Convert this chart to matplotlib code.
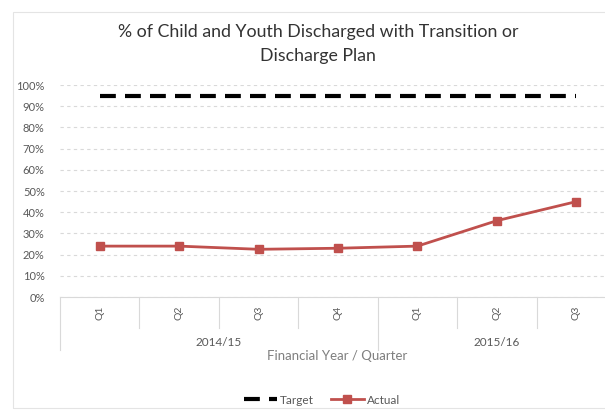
import matplotlib
matplotlib.use("Agg")
import matplotlib.pyplot as plt
from matplotlib.lines import Line2D
from matplotlib.patches import Rectangle

plt.rcParams['font.family'] = ['Lato', 'DejaVu Sans']

years = ["2014/15", "2015/16"]
quarters = ["Q1", "Q2", "Q3", "Q4", "Q1", "Q2", "Q3"]
year_spans = [4, 3]
target = [95, 95, 95, 95, 95, 95, 95]
actual = [24, 24, 22.5, 23, 24, 36, 45]

W, H = 605, 412
fig = plt.figure(figsize=(W / 100, H / 100), dpi=100)

# faint chart frame
fig.patches.append(Rectangle((13 / W, 4 / H), 1, (408 - 12) / H, transform=fig.transFigure,
                             fill=False, edgecolor="#e4e4e4", linewidth=0.8))

left, right, top, bottom = 60, 616, 85, 297
ax = fig.add_axes([left / W, 1 - bottom / H, (right - left) / W, (bottom - top) / H])

n = len(quarters)
x = list(range(n))
ax.set_xlim(-0.5, n - 0.5)
ax.set_ylim(0, 100)

grey_text = "#595959"
ax.set_yticks(range(0, 101, 10))
ax.set_yticklabels([f"{v}%" for v in range(0, 101, 10)], fontsize=8, color=grey_text)
ax.tick_params(axis="y", length=0, pad=11)
ax.yaxis.grid(True, color="#d9d9d9", linestyle=(0, (3, 3)), linewidth=0.8)
ax.set_axisbelow(True)
for s in ["left", "right", "top"]:
    ax.spines[s].set_visible(False)
ax.spines["bottom"].set_color("#d9d9d9")
ax.spines["bottom"].set_linewidth(0.8)

ax.set_xticks(x)
ax.set_xticklabels(quarters, rotation=90, fontsize=7.5, color=grey_text)
ax.tick_params(axis="x", length=0, pad=6)

dash = (0, (3.8, 2.2))
ax.plot(x, target, color="black", linewidth=3, linestyle=dash, label="Target")
ax.plot(x, actual, color="#c0504d", linewidth=2, marker="s", markersize=5.5, label="Actual")

# category axis dividers
trans = ax.get_xaxis_transform()
px = 1 / (bottom - top)
boundaries = [0]
for s in year_spans:
    boundaries.append(boundaries[-1] + s)
for b in range(n + 1):
    depth = 53 if b in boundaries else 31
    ax.plot([b - 0.5, b - 0.5], [0, -depth * px], transform=trans, color="#d9d9d9",
            linewidth=0.8, clip_on=False)

start = 0
for yr, s in zip(years, year_spans):
    ax.text(start + s / 2 - 0.5, -45 * px, yr, transform=trans, ha="center", va="center",
            fontsize=8.5, color=grey_text)
    start += s

fig.text(337 / W, 1 - 356 / H, "Financial Year / Quarter", ha="center", va="center",
         fontsize=9.5, color="#7f7f7f")

fig.text(318 / W, 1 - 44 / H, "% of Child and Youth Discharged with Transition or\nDischarge Plan",
         ha="center", va="center", fontsize=12.8, color="#333333", linespacing=1.55)

handles = [Line2D([], [], color="black", linewidth=3, linestyle=dash),
           Line2D([], [], color="#c0504d", linewidth=2, marker="s", markersize=5.5)]
leg = fig.legend(handles, ["Target", "Actual"], loc="center", bbox_to_anchor=(322 / W, 1 - 400 / H),
                 ncol=2, frameon=False, fontsize=8.5, handlelength=2.8, columnspacing=1.4,
                 handletextpad=0.3)
for t in leg.get_texts():
    t.set_color(grey_text)

fig.savefig("out.png", dpi=100)
